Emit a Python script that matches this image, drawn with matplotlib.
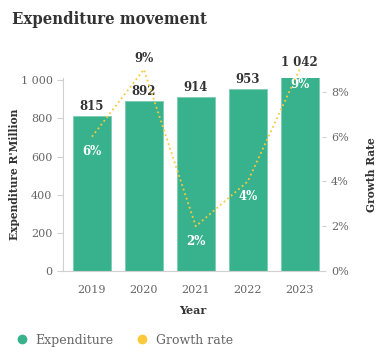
import matplotlib.pyplot as plt
from matplotlib.lines import Line2D

# data
years = ["2019", "2020", "2021", "2022", "2023"]
expenditure = [815, 892, 914, 953, 1042]
growth = [6, 9, 2, 4, 9]
exp_labels = ["815", "892", "914", "953", "1 042"]

green = "#38b28c"
yellow = "#fcc93a"
dark = "#333333"
grey = "#666666"
serif = ["DejaVu Serif"]
plt.rcParams["font.family"] = serif

fig = plt.figure(figsize=(3.86, 3.61), dpi=100)
ax = fig.add_axes([0.163, 0.249, 0.671, 0.535])
x = list(range(len(years)))

ax.bar(x, expenditure, width=0.73, color=green, edgecolor="#7ccdb2", linewidth=0.6, zorder=2)
ax.set_xlim(-0.56, 4.43)
ax.set_ylim(0, 1012)
ax.set_yticks([0, 200, 400, 600, 800, 1000])
ax.set_yticklabels(["0", "200", "400", "600", "800", "1 000"])
for i, v in enumerate(expenditure):
    ax.text(i, v + 16, exp_labels[i], ha="center", va="bottom", fontsize=8.5,
            fontweight="bold", color=dark)

for s in ["top", "right"]:
    ax.spines[s].set_visible(False)
for s in ["left", "bottom"]:
    ax.spines[s].set_color("#d0d0d0")
ax.tick_params(axis="y", colors="#d0d0d0", labelcolor=grey, labelsize=8, length=4)
ax.tick_params(axis="x", length=0, labelcolor=grey, labelsize=8, pad=10)
ax.set_xticks(x)
ax.set_xticklabels(years)
ax.set_xlabel("Year", fontsize=8, fontweight="bold", color=dark, labelpad=7)
ax.set_ylabel("Expenditure R'Million", fontsize=7.7, fontweight="bold", color=dark)
ax.yaxis.set_label_coords(-0.165, 0.5)

ax2 = ax.twinx()
ax2.set_ylim(0, 8.62)
ax2.plot(x, growth, color=yellow, linestyle=":", linewidth=1.3, clip_on=False, zorder=3)
ax2.set_yticks([0, 2, 4, 6, 8])
ax2.set_yticklabels(["0%", "2%", "4%", "6%", "8%"])
for s in ["top", "left", "bottom", "right"]:
    ax2.spines[s].set_visible(False)
ax2.tick_params(axis="y", colors="#d0d0d0", labelcolor=grey, labelsize=8, length=3)
ax2.set_ylabel("Growth Rate", fontsize=7.7, fontweight="bold", color=dark, rotation=90)
ax2.yaxis.set_label_coords(1.17, 0.5)

# growth labels: above the point when it sits over the bar top, else inside
for i, g in enumerate(growth):
    if i == 1:
        ax2.annotate(f"{g}%", (i, g), xytext=(0, 3), textcoords="offset points",
                     ha="center", va="bottom", fontsize=8.5, fontweight="bold",
                     color=dark, annotation_clip=False)
    else:
        ax2.annotate(f"{g}%", (i, g), xytext=(0, -6), textcoords="offset points",
                     ha="center", va="top", fontsize=8.5, fontweight="bold",
                     color="white", annotation_clip=False)

fig.text(0.031, 0.945, "Expenditure movement", fontsize=12, fontweight="bold",
         fontstretch="condensed", color=dark, va="center")

handles = [Line2D([], [], marker="o", linestyle="None", color=green, markersize=6),
           Line2D([], [], marker="o", linestyle="None", color=yellow, markersize=6)]
fig.legend(handles, ["Expenditure", "Growth rate"], loc="center left",
           bbox_to_anchor=(-0.005, 0.058), ncol=2, frameon=False,
           handletextpad=0.1, columnspacing=1.3, labelcolor=grey,
           prop={"family": serif, "size": 9})

fig.savefig("out.png", dpi=100)
